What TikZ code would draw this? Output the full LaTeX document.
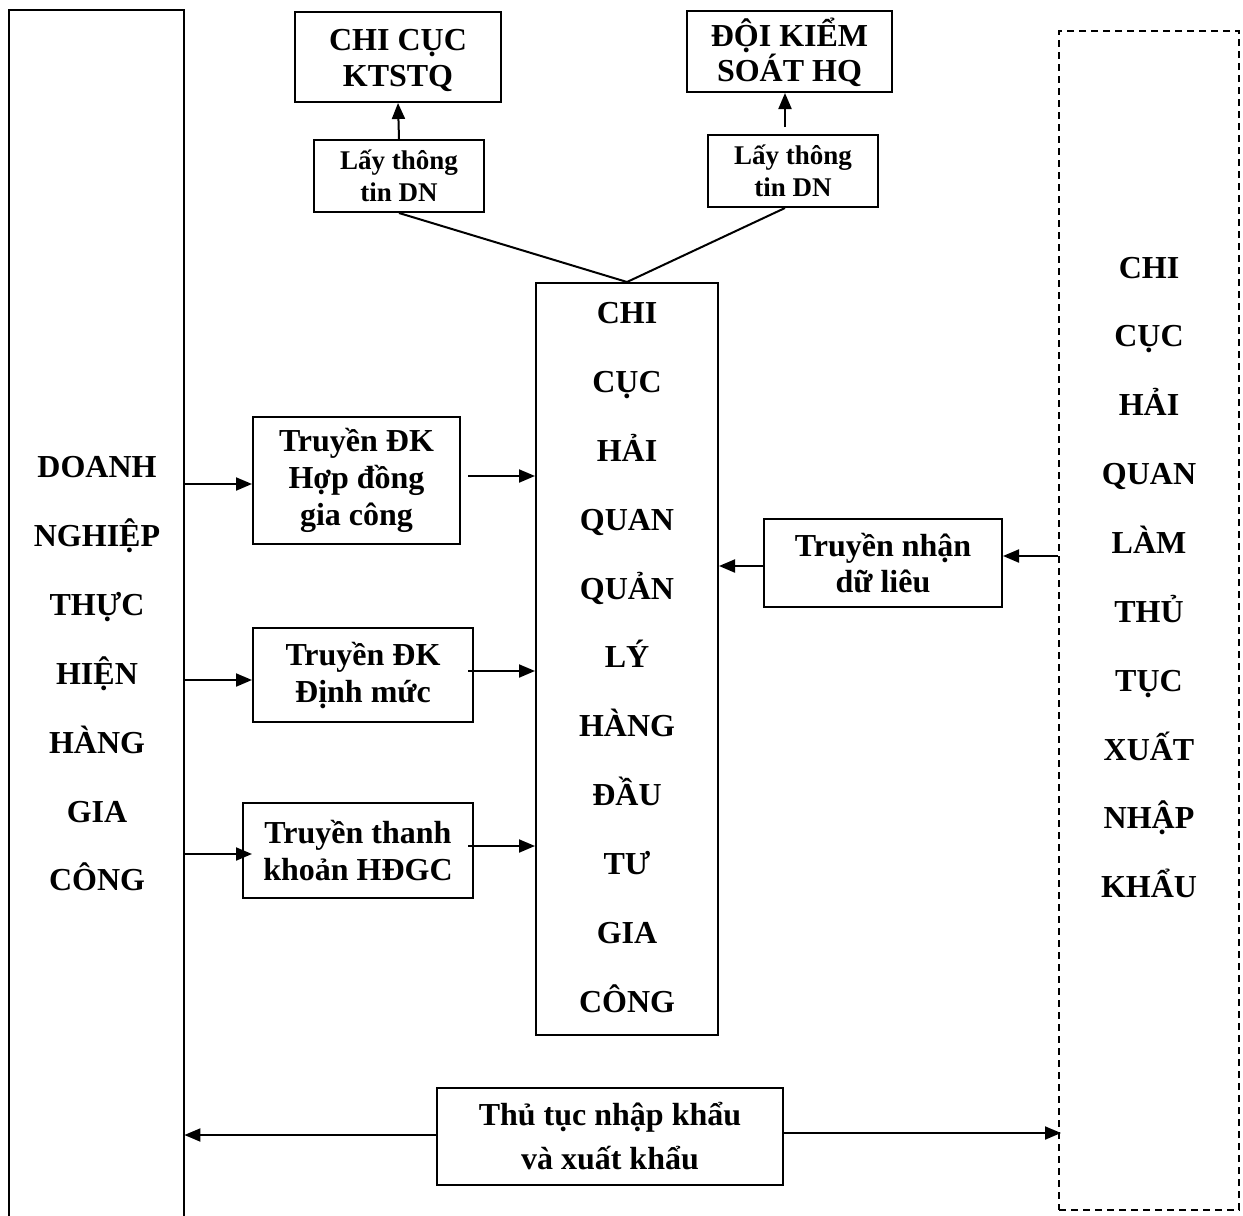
\documentclass[tikz,border=0pt]{standalone}
\usepackage{fontspec}
\setmainfont{Liberation Serif}
\usetikzlibrary{arrows.meta,calc}
\begin{document}
\begin{tikzpicture}[x=1pt,y=-1pt,
  box/.style={draw,line width=2pt,inner sep=0pt,align=center,font=\bfseries\fontsize{32}{37}\selectfont},
  smallbox/.style={box,font=\bfseries\fontsize{27}{32}\selectfont},
  coltext/.style={inner sep=0pt,align=center,font=\bfseries\fontsize{32}{68.85}\selectfont},
  conn/.style={line width=2pt},
  arr/.style={line width=2pt,-{Triangle[length=16pt,width=13pt]}}]
\useasboundingbox (0,0) rectangle (1243,1216);
% left column
\node[minimum width=175,minimum height=1206,inner sep=0pt,anchor=north west] (dn) at (9,10) {};
\draw[line width=2pt] (dn.south west) -- (dn.north west) -- (dn.north east) -- (dn.south east);
\node[coltext] (dnt) at (97,674) {DOANH\\NGHIỆP\\THỰC\\HIỆN\\HÀNG\\GIA\\CÔNG};
% right dashed column
\node[draw,line width=2pt,dash pattern=on 7pt off 5pt,minimum width=180,minimum height=1179,inner sep=0pt] (hq) at (1149,620.5) {};
\node[coltext] (hqt) at (1149,577.5) {CHI\\CỤC\\HẢI\\QUAN\\LÀM\\THỦ\\TỤC\\XUẤT\\NHẬP\\KHẨU};
% centre column
\node[box,minimum width=182,minimum height=752] (cc) at (627,659) {};
\node[coltext] (cct) at (627,657.5) {CHI\\CỤC\\HẢI\\QUAN\\QUẢN\\LÝ\\HÀNG\\ĐẦU\\TƯ\\GIA\\CÔNG};
% top boxes
\node[box,minimum width=206,minimum height=90,font=\bfseries\fontsize{32}{36}\selectfont] (ktstq) at (398,57) {};
\node[inner sep=0pt,align=center,font=\bfseries\fontsize{32}{36}\selectfont] (ktstqt) at (398,60) {CHI CỤC\\KTSTQ};
\node[box,minimum width=205,minimum height=81] (dkiem) at (789.5,51.5) {};
\node[inner sep=0pt,align=center,font=\bfseries\fontsize{32}{35}\selectfont] (dkiemt) at (789.5,52.5) {ĐỘI KIỂM\\SOÁT HQ};
\node[smallbox,minimum width=170,minimum height=72] (lay1) at (399,176) {Lấy thông\\tin DN};
\node[smallbox,minimum width=170,minimum height=72] (lay2) at (793,171) {Lấy thông\\tin DN};
% middle boxes
\node[box,minimum width=207,minimum height=127] (t1) at (356.5,480.5) {Truyền ĐK\\Hợp đồng\\gia công};
\node[box,minimum width=220,minimum height=94] (t2) at (363,675) {Truyền ĐK\\Định mức};
\node[box,minimum width=230,minimum height=95] (t3) at (358,850.5) {Truyền thanh\\khoản HĐGC};
\node[box,minimum width=238,minimum height=88,font=\bfseries\fontsize{32}{36}\selectfont] (tn) at (883,563) {Truyền nhận\\dữ liêu};
\node[box,minimum width=346,minimum height=97,font=\bfseries\fontsize{32}{44}\selectfont] (tt) at (610,1136.5) {Thủ tục nhập khẩu\\và xuất khẩu};
% connectors
\draw[arr] (lay1.north) -- (ktstq.south);
\draw[arr] ($(lay2.north)+(-8,-7)$) -- ($(dkiem.south)+(-4.5,0)$);
\draw[conn] (lay1.south) -- (cc.north);
\draw[conn] ($(lay2.south)+(-8,0)$) -- (cc.north);
\draw[arr] (dn.east |- 0,484) -- (t1.west |- 0,484);
\draw[arr] (dn.east |- 0,680) -- (t2.west |- 0,680);
\draw[arr] (dn.east |- 0,854) -- ($(t3.west |- 0,854)+(10,0)$);
\draw[arr] ($(t1.east)+(7,-4.5)$) -- ($(cc.west |- t1.east)+(0,-4.5)$);
\draw[arr] ($(t2.east)+(-6,-4)$) -- ($(cc.west |- t2.east)+(0,-4)$);
\draw[arr] ($(t3.east)+(-6,-4.5)$) -- ($(cc.west |- t3.east)+(0,-4.5)$);
\draw[arr] (hq.west |- 0,556) -- (tn.east |- 0,556);
\draw[arr] (tn.west |- 0,566) -- (cc.east |- 0,566);
\draw[arr] (tt.west |- 0,1135) -- (dn.east |- 0,1135);
\draw[arr] (tt.east |- 0,1133) -- ($(hq.west |- 0,1133)+(3,0)$);
\end{tikzpicture}
\end{document}
